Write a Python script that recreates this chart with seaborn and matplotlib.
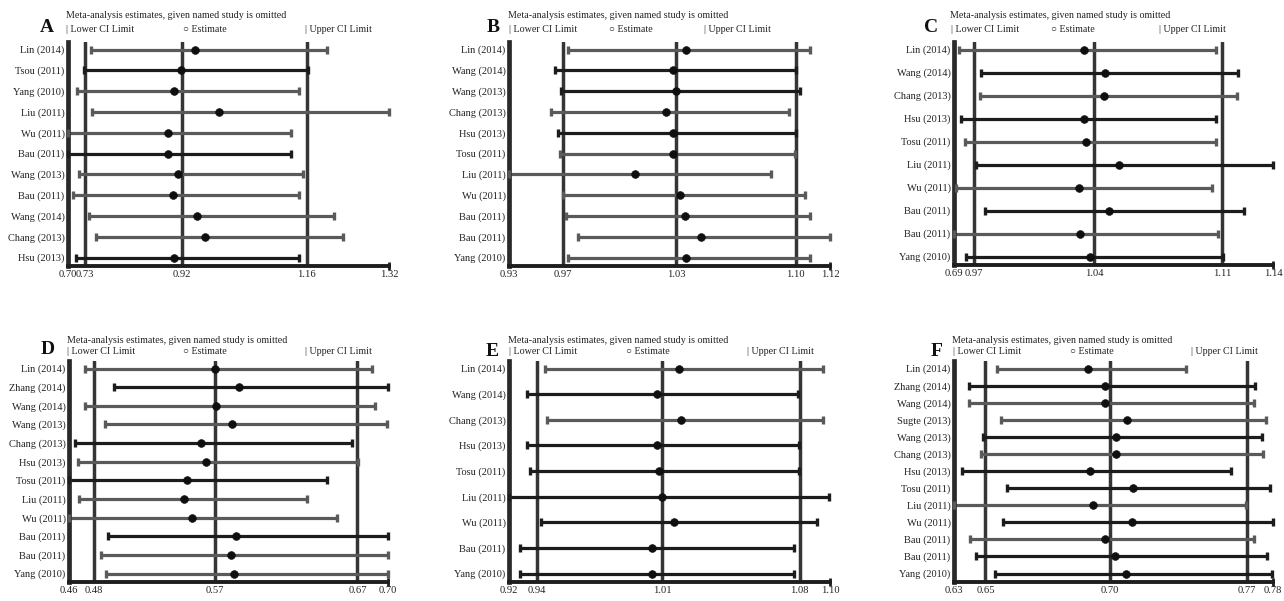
import matplotlib
matplotlib.use("Agg")
import matplotlib.pyplot as plt
import seaborn as sns
import pandas as pd

# ---------------- data ----------------
studies_A = ["Lin (2014)", "Tsou (2011)", "Yang (2010)", "Liu (2011)", "Wu (2011)", "Bau (2011)",
             "Wang (2013)", "Bau (2011)", "Wang (2014)", "Chang (2013)", "Hsu (2013)"]
lower_A = [0.744, 0.730, 0.717, 0.747, 0.700, 0.700, 0.721, 0.710, 0.741, 0.755, 0.716]
est_A = [0.945, 0.918, 0.905, 0.992, 0.893, 0.894, 0.913, 0.902, 0.949, 0.965, 0.904]
upper_A = [1.200, 1.164, 1.146, 1.320, 1.131, 1.131, 1.154, 1.147, 1.214, 1.231, 1.146]
overall_A = [0.733, 0.920, 1.161]
range_A = [0.70, 1.32]
ticklabels_A = ["0.70", "0.73", "0.92", "1.16", "1.32"]

studies_B = ["Lin (2014)", "Wang (2014)", "Wang (2013)", "Chang (2013)", "Hsu (2013)", "Tosu (2011)",
             "Liu (2011)", "Wu (2011)", "Bau (2011)", "Bau (2011)", "Yang (2010)"]
lower_B = [0.965, 0.957, 0.961, 0.955, 0.959, 0.960, 0.930, 0.962, 0.964, 0.971, 0.965]
est_B = [1.0346, 1.027, 1.029, 1.023, 1.027, 1.027, 1.0046, 1.031, 1.034, 1.0435, 1.0346]
upper_B = [1.108, 1.100, 1.102, 1.096, 1.100, 1.099, 1.085, 1.105, 1.108, 1.120, 1.108]
overall_B = [0.962, 1.029, 1.0997]
range_B = [0.93, 1.12]
ticklabels_B = ["0.93", "0.97", "1.03", "1.10", "1.12"]

studies_C = ["Lin (2014)", "Wang (2014)", "Chang (2013)", "Hsu (2013)", "Tosu (2011)", "Liu (2011)",
             "Wu (2011)", "Bau (2011)", "Bau (2011)", "Yang (2010)"]
lower_C = [0.966, 0.978, 0.977, 0.967, 0.969, 0.975, 0.964, 0.980, 0.963, 0.9697]
est_C = [1.0345, 1.0459, 1.0451, 1.0345, 1.0355, 1.0537, 1.0318, 1.048, 1.0323, 1.0378]
upper_C = [1.107, 1.119, 1.118, 1.107, 1.107, 1.138, 1.1045, 1.1223, 1.1076, 1.1103]
overall_C = [0.974, 1.040, 1.110]
range_C = [0.963, 1.138]
ticklabels_C = ["0.69", "0.97", "1.04", "1.11", "1.14"]

studies_D = ["Lin (2014)", "Zhang (2014)", "Wang (2014)", "Wang (2013)", "Chang (2013)", "Hsu (2013)",
             "Tosu (2011)", "Liu (2011)", "Wu (2011)", "Bau (2011)", "Bau (2011)", "Yang (2010)"]
lower_D = [0.472, 0.494, 0.472, 0.487, 0.4645, 0.467, 0.460, 0.4675, 0.460, 0.4896, 0.4838, 0.4878]
est_D = [0.5698, 0.588, 0.5705, 0.583, 0.559, 0.563, 0.5485, 0.5467, 0.5522, 0.586, 0.5818, 0.5843]
upper_D = [0.6876, 0.700, 0.690, 0.699, 0.673, 0.6775, 0.6538, 0.6392, 0.6617, 0.700, 0.700, 0.700]
overall_D = [0.479, 0.5698, 0.677]
range_D = [0.46, 0.70]
ticklabels_D = ["0.46", "0.48", "0.57", "0.67", "0.70"]

studies_E = ["Lin (2014)", "Wang (2014)", "Chang (2013)", "Hsu (2013)", "Tosu (2011)", "Liu (2011)",
             "Wu (2011)", "Bau (2011)", "Yang (2010)"]
lower_E = [0.940, 0.930, 0.9415, 0.930, 0.9318, 0.920, 0.938, 0.9262, 0.9262]
est_E = [1.0155, 1.0028, 1.0165, 1.0028, 1.0043, 1.006, 1.0127, 1.0004, 1.0004]
upper_E = [1.096, 1.082, 1.0963, 1.0824, 1.0824, 1.0997, 1.0926, 1.080, 1.080]
overall_E = [0.9355, 1.006, 1.083]
range_E = [0.92, 1.10]
ticklabels_E = ["0.92", "0.94", "1.01", "1.08", "1.10"]

studies_F = ["Lin (2014)", "Zhang (2014)", "Wang (2014)", "Sugte (2013)", "Wang (2013)", "Chang (2013)",
             "Hsu (2013)", "Tosu (2011)", "Liu (2011)", "Wu (2011)", "Bau (2011)", "Bau (2011)", "Yang (2010)"]
lower_F = [0.6504, 0.6371, 0.6371, 0.6523, 0.6436, 0.6429, 0.6338, 0.6551, 0.630, 0.653, 0.6374, 0.6402, 0.6491]
est_F = [0.693, 0.7012, 0.7009, 0.7115, 0.706, 0.706, 0.6941, 0.7142, 0.6953, 0.7137, 0.7012, 0.7056, 0.711]
upper_F = [0.7389, 0.7714, 0.7711, 0.7765, 0.7748, 0.7753, 0.7604, 0.7784, 0.7675, 0.780, 0.7711, 0.7771, 0.7795]
overall_F = [0.6448, 0.7035, 0.7678]
range_F = [0.63, 0.78]
ticklabels_F = ["0.63", "0.65", "0.70", "0.77", "0.78"]

# ---------------- style ----------------
sns.set_style("white")
plt.rcParams["font.family"] = ["Liberation Serif", "DejaVu Serif"]

DARK, GREY = "#1c1c1c", "#5a5a5a"
shades = {
    "A": "gdgggdggggd",
    "B": "gddgdgggggg",
    "C": "gdgdgdgdgd",
    "D": "gdggdgdggdgg",
    "E": "gdgdddddd",
    "F": "gdggdgddgdgdd",
}

W, H = 1284, 601
fig = plt.figure(figsize=(W / 100, H / 100), dpi=100)

# layout: axes box (x0, x1, top, bottom) in pixels, text positions
layout = {
    "A": dict(box=(68, 389, 42, 266), letter=(47, 28), title=(66, 16), leg=(66, 183, 305, 29)),
    "B": dict(box=(509, 830, 42, 266), letter=(493, 28), title=(508, 16), leg=(509, 609, 704, 29)),
    "C": dict(box=(954, 1273, 42, 265), letter=(931, 28), title=(950, 16), leg=(951, 1051, 1159, 29)),
    "D": dict(box=(69, 388, 361, 582), letter=(48, 350), title=(67, 340), leg=(67, 183, 305, 352)),
    "E": dict(box=(509, 830, 361, 582), letter=(492, 352), title=(508, 340), leg=(509, 626, 747, 352)),
    "F": dict(box=(954, 1273, 361, 582), letter=(937, 352), title=(952, 340), leg=(953, 1070, 1191, 352)),
}

panels = {
    "A": (studies_A, lower_A, est_A, upper_A, overall_A, range_A, ticklabels_A),
    "B": (studies_B, lower_B, est_B, upper_B, overall_B, range_B, ticklabels_B),
    "C": (studies_C, lower_C, est_C, upper_C, overall_C, range_C, ticklabels_C),
    "D": (studies_D, lower_D, est_D, upper_D, overall_D, range_D, ticklabels_D),
    "E": (studies_E, lower_E, est_E, upper_E, overall_E, range_E, ticklabels_E),
    "F": (studies_F, lower_F, est_F, upper_F, overall_F, range_F, ticklabels_F),
}

TXT = 7.2

def fx(x):
    return x / W

def fy(y):
    return 1 - y / H

for key, (studies, lo, est, hi, overall, xr, tlabels) in panels.items():
    lay = layout[key]
    x0, x1, top, bot = lay["box"]
    ax = fig.add_axes([fx(x0), fy(bot), (x1 - x0) / W, (bot - top) / H])
    n = len(studies)
    df = pd.DataFrame({"study": studies, "lower": lo, "est": est, "upper": hi,
                       "row": list(range(n))})

    # reference lines (overall lower CI, estimate, upper CI)
    for v in overall:
        ax.axvline(v, color="#353535", lw=2.5, zorder=1)

    # CI lines with end caps
    for i, r in df.iterrows():
        c = DARK if shades[key][i] == "d" else GREY
        ax.plot([r["lower"], r["upper"]], [r["row"], r["row"]], color=c, lw=2.3,
                solid_capstyle="butt", zorder=2, clip_on=False)
        ax.plot([r["lower"], r["upper"]], [r["row"], r["row"]], ls="none", marker="|",
                ms=5.5, mew=2.4, color=c, zorder=3, clip_on=False)

    sns.scatterplot(data=df, x="est", y="row", ax=ax, color="#0f0f0f", s=32,
                    edgecolor="#0f0f0f", linewidth=0.4, legend=False, zorder=5, clip_on=False)

    # limits
    pt, pb = 7.5, 8.5
    hp = bot - top
    sp = (hp - pt - pb) / (n - 1)
    ax.set_ylim(n - 1 + pb / sp, -pt / sp)
    ax.set_xlim(xr[0], xr[1])

    ax.set_yticks(range(n))
    ax.set_yticklabels(studies, fontsize=TXT + 0.3)
    tick_vals = [xr[0], overall[0], overall[1], overall[2], xr[1]]
    ax.set_xticks(tick_vals)
    ax.set_xticklabels(tlabels, fontsize=TXT + 0.4)
    ax.tick_params(axis="both", length=0, colors="#222222")
    ax.tick_params(axis="y", pad=2.5)
    ax.tick_params(axis="x", pad=3)
    ax.set_xlabel("")
    ax.set_ylabel("")

    for s in ("top", "right"):
        ax.spines[s].set_visible(False)
    ax.spines["left"].set_linewidth(3.4)
    ax.spines["left"].set_color("#2a2a2a")
    ax.spines["bottom"].set_linewidth(2.8)
    ax.spines["bottom"].set_color("#1e1e1e")
    ax.plot([xr[1]], [n - 1 + pb / sp], marker="|", ms=6, mew=2, color="#1e1e1e",
            clip_on=False, zorder=4)

    # headings
    lx, ly = lay["letter"]
    fig.text(fx(lx), fy(ly), key, ha="center", va="center", fontsize=14,
             fontweight="bold", color="#111111")
    tx, ty = lay["title"]
    fig.text(fx(tx), fy(ty), "Meta-analysis estimates, given named study is omitted",
             ha="left", va="center", fontsize=TXT, color="#222222")
    a, b, c, y = lay["leg"]
    fig.text(fx(a), fy(y), "| Lower CI Limit", ha="left", va="center", fontsize=TXT, color="#222222")
    fig.text(fx(b), fy(y), "\u25cb Estimate", ha="left", va="center", fontsize=TXT,
             color="#222222", family=["Liberation Serif", "DejaVu Sans"])
    fig.text(fx(c), fy(y), "| Upper CI Limit", ha="left", va="center", fontsize=TXT, color="#222222")

fig.savefig("out.png", dpi=100, facecolor="white")
